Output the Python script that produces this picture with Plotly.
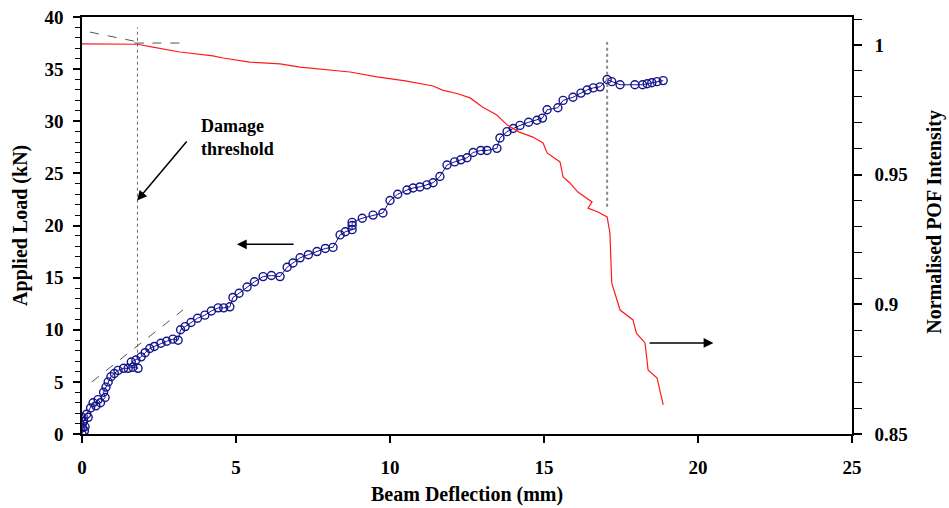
import plotly.graph_objects as go

# Load–deflection data (blue, left axis)
load_defl = [0.00, 0.02, 0.05, 0.00, 0.08, 0.10, 0.20, 0.15, 0.28, 0.36, 0.45, 0.52, 0.60, 0.75, 0.70,
             0.78, 0.85, 0.94, 1.05, 1.17, 1.35, 1.50, 1.65, 1.82, 1.60, 1.75, 1.92, 2.05, 2.20, 2.35,
             2.56, 2.75, 2.95, 3.12, 3.20, 3.35, 3.54, 3.75, 3.99, 4.20, 4.42, 4.60, 4.80, 4.90, 5.10,
             5.36, 5.60, 5.88, 6.15, 6.43, 6.66, 6.85, 7.08, 7.35, 7.63, 7.90, 8.15, 8.38, 8.55, 8.77,
             8.77, 8.77, 9.10, 9.45, 9.77, 10.00, 10.25, 10.55, 10.75, 10.97, 11.20, 11.40, 11.62, 11.85,
             12.10, 12.30, 12.50, 12.70, 12.95, 13.15, 13.47, 13.57, 13.80, 14.00, 14.22, 14.50, 14.77,
             14.95, 15.10, 15.45, 15.62, 15.94, 16.20, 16.40, 16.60, 16.82, 17.05, 17.20, 17.47, 17.95,
             18.20, 18.35, 18.50, 18.67, 18.87]
load_kn = [0.0, 0.6, 1.2, 1.6, 0.3, 0.7, 1.6, 1.9, 2.5, 3.0, 2.7, 3.3, 3.0, 3.5, 4.0,
           4.5, 5.0, 5.5, 5.8, 6.1, 6.3, 6.3, 6.4, 6.3, 6.9, 7.1, 7.4, 7.8, 8.2, 8.4,
           8.7, 8.9, 9.1, 9.0, 10.0, 10.3, 10.7, 11.1, 11.4, 11.8, 12.1, 12.1, 12.2, 13.1, 13.5,
           14.1, 14.6, 15.1, 15.2, 15.1, 16.0, 16.4, 16.9, 17.2, 17.5, 17.8, 17.9, 19.1, 19.4, 19.6,
           20.0, 20.3, 20.7, 21.0, 21.2, 22.4, 23.0, 23.4, 23.6, 23.7, 23.9, 24.1, 24.7, 25.8,
           26.1, 26.3, 26.5, 27.0, 27.2, 27.2, 27.4, 28.4, 29.0, 29.3, 29.6, 29.9, 30.1,
           30.3, 31.1, 31.3, 32.0, 32.3, 32.7, 33.0, 33.2, 33.3, 34.0, 33.8, 33.5, 33.5,
           33.5, 33.6, 33.7, 33.8, 33.9]

# Normalised POF intensity (red, right axis)
pof_defl = [0.00, 1.80, 2.30, 3.18, 4.25, 4.58, 5.45, 6.43, 7.08, 8.70, 9.58, 10.50, 11.40, 11.70,
            12.20, 12.60, 13.00, 13.47, 13.80, 14.20, 14.64, 14.97, 15.10, 15.52, 15.62, 15.84,
            16.10, 16.33, 16.56, 16.43, 16.75, 17.05, 17.14, 17.20, 17.47, 17.89, 18.00, 18.28,
            18.38, 18.67, 18.77, 18.87]
pof_int = [1.0004, 1.0003, 0.9992, 0.9973, 0.9958, 0.9950, 0.9934, 0.9927, 0.9915, 0.9896, 0.9877,
           0.9862, 0.9842, 0.9826, 0.9812, 0.9796, 0.9761, 0.9730, 0.9692, 0.9664, 0.9645, 0.9622,
           0.9584, 0.9549, 0.9491, 0.9468, 0.9433, 0.9414, 0.9395, 0.9371, 0.9356, 0.9337, 0.9275,
           0.9082, 0.8978, 0.8940, 0.8889, 0.8851, 0.8747, 0.8716, 0.8658, 0.8612]

x_ticks = [0, 5, 10, 15, 20, 25]
y_ticks = [0, 5, 10, 15, 20, 25, 30, 35, 40]
y2_ticks = [0.85, 0.9, 0.95, 1.0]
y2_labels = ["0.85", "0.9", "0.95", "1"]

FONT = "Liberation Serif"
NAVY = "#14148a"
RED = "#ff1a1a"

fig = go.Figure()
fig.add_trace(go.Scatter(
    x=load_defl, y=load_kn, mode="lines+markers",
    line=dict(color=NAVY, width=1),
    marker=dict(symbol="circle-open", size=8, color=NAVY, line=dict(width=1.4, color=NAVY)),
    yaxis="y", showlegend=False))
fig.add_trace(go.Scatter(
    x=pof_defl, y=pof_int, mode="lines",
    line=dict(color=RED, width=1.2),
    yaxis="y2", showlegend=False))

tickfont = dict(family=FONT, size=19, color="black", weight="bold")

fig.update_layout(
    width=949, height=508,
    margin=dict(l=82, r=97, t=17, b=74, autoexpand=False),
    paper_bgcolor="white", plot_bgcolor="white",
    showlegend=False,
    xaxis=dict(range=[0, 25], tickvals=x_ticks, ticks="outside", ticklen=7, tickwidth=1.5,
               tickcolor="black", showline=True, linecolor="black", linewidth=1.5, mirror=True,
               showgrid=False, zeroline=False, tickfont=tickfont, ticklabelstandoff=8),
    yaxis=dict(range=[0, 40], tickvals=y_ticks, ticks="outside", ticklen=7, tickwidth=1.5,
               tickcolor="black", showline=True, linecolor="black", linewidth=1.5,
               showgrid=False, zeroline=False, tickfont=tickfont, ticklabelstandoff=6,
               minor=dict(dtick=1, ticks="outside", ticklen=5, tickwidth=1.2, tickcolor="black",
                          showgrid=False)),
    yaxis3=dict(range=[0, 40], overlaying="y", side="left", tickvals=y_ticks, ticks="inside",
                ticklen=7, tickwidth=1.5, tickcolor="black", showticklabels=False,
                showline=False, showgrid=False, zeroline=False,
                minor=dict(dtick=1, ticks="inside", ticklen=5, tickwidth=1.2, tickcolor="black",
                           showgrid=False)),
    yaxis2=dict(range=[0.85, 1.0108], overlaying="y", side="right", tickvals=y2_ticks,
                ticktext=y2_labels, ticks="outside", ticklen=8, tickwidth=1.5, tickcolor="black",
                showline=True, linecolor="black", linewidth=1.5, showgrid=False, zeroline=False,
                tickfont=tickfont, ticklabelstandoff=9,
                minor=dict(dtick=0.01, tick0=0.85, ticks="outside", ticklen=8, tickwidth=1.2,
                           tickcolor="black", showgrid=False)),
)

titlefont = dict(family=FONT, size=20, color="black", weight="bold")
fig.add_annotation(text="Beam Deflection (mm)", xref="paper", yref="paper", x=0.5, y=-0.144,
                   showarrow=False, font=titlefont, xanchor="center", yanchor="middle")
fig.add_annotation(text="Applied Load (kN)", xref="paper", yref="paper", x=-0.08, y=0.5,
                   showarrow=False, font=titlefont, textangle=-90, xanchor="center", yanchor="middle")
fig.add_annotation(text="Normalised POF Intensity", xref="paper", yref="paper", x=1.107, y=0.51,
                   showarrow=False, font=titlefont, textangle=-90, xanchor="center", yanchor="middle")

# Guide lines
guide = dict(color="#555555", width=1, dash="dash")
fig.add_shape(type="line", xref="x", yref="y", x0=1.8, y0=7.8, x1=1.8, y1=39.0,
              line=dict(color="#666666", width=1, dash="dot"))
fig.add_shape(type="line", xref="x", yref="y", x0=0.32, y0=5.0, x1=3.28, y1=11.9, line=guide)
fig.add_shape(type="line", xref="x", yref="y", x0=0.26, y0=38.55, x1=2.0, y1=37.5, line=guide)
fig.add_shape(type="line", xref="x", yref="y", x0=1.7, y0=37.5, x1=3.44, y1=37.5, line=guide)
fig.add_shape(type="line", xref="x", yref="y", x0=17.05, y0=21.8, x1=17.05, y1=37.6,
              line=dict(color="#888888", width=2, dash="dot"))

# Arrows
arrow = dict(showarrow=True, arrowhead=2, arrowsize=1.3, arrowwidth=1.5, arrowcolor="black",
             axref="x", ayref="y", xref="x", yref="y", text="")
fig.add_annotation(x=1.79, y=22.4, ax=3.44, ay=28.2, **arrow)
fig.add_annotation(x=5.03, y=18.2, ax=6.92, ay=18.2, **arrow)
fig.add_annotation(x=20.5, y=8.73, ax=18.38, ay=8.73, **arrow)

fig.add_annotation(text="Damage<br>threshold", xref="x", yref="y", x=3.8, y=28.4,
                   showarrow=False, xanchor="left", yanchor="middle", align="left",
                   font=dict(family=FONT, size=18, color="black", weight="bold"))

fig.write_html("out.html")
